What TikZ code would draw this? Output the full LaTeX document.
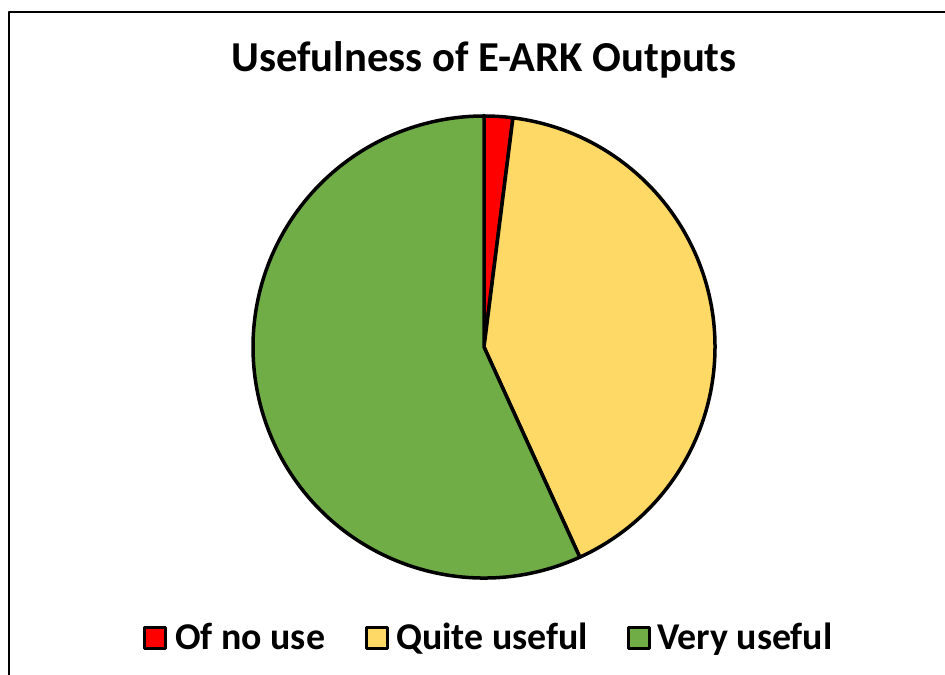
\documentclass[tikz,border=0pt]{standalone}
\usepackage{fontspec}
\setmainfont{Carlito}
\usepackage{xcolor}
\definecolor{noUse}{HTML}{FF0000}
\definecolor{quiteUse}{HTML}{FFD966}
\definecolor{veryUse}{HTML}{70AD47}
\newcommand{\tbf}[1]{\textbf{#1}}
\begin{document}
\begin{tikzpicture}[x=1bp,y=1bp,line join=round]
      \useasboundingbox (0,0) rectangle (945,675);
      % outer frame (cut at right and bottom)
      \draw [line width=2.5bp] (945,663) -- (9,663) -- (9,0);

      \coordinate (c) at (484,328);
      \filldraw [fill=noUse,line width=3.5bp] (c) -- ++(90:231) arc[start angle=90,end angle=82.8,radius=231] -- cycle;
      \filldraw [fill=quiteUse,line width=3.5bp] (c) -- ++(82.8:231) arc[start angle=82.8,end angle=-65.5,radius=231] -- cycle;
      \filldraw [fill=veryUse,line width=3.5bp] (c) -- ++(-65.5:231) arc[start angle=-65.5,end angle=-270,radius=231] -- cycle;

      \node [anchor=base, name=title] at (484,603)
      {\fontsize{42.8}{46}\selectfont\tbf{Usefulness of E-ARK Outputs}};

      % legend
      \node [draw,line width=3bp,fill=noUse,minimum size=21bp,inner sep=0pt,name=keyA] at (155,37) {};
      \node [anchor=base west,inner sep=0pt,name=labA] at (175,25)
      {\fontsize{38}{42}\selectfont\tbf{Of no use}};
      \node [draw,line width=3bp,fill=quiteUse,minimum size=21bp,inner sep=0pt,name=keyB] at (377,37) {};
      \node [anchor=base west,inner sep=0pt,name=labB] at (396,25)
      {\fontsize{38}{42}\selectfont\tbf{Quite useful}};
      \node [draw,line width=3bp,fill=veryUse,minimum size=21bp,inner sep=0pt,name=keyC] at (639,37) {};
      \node [anchor=base west,inner sep=0pt,name=labC] at (657,25)
      {\fontsize{38}{42}\selectfont\tbf{Very useful}};
\end{tikzpicture}
\end{document}
